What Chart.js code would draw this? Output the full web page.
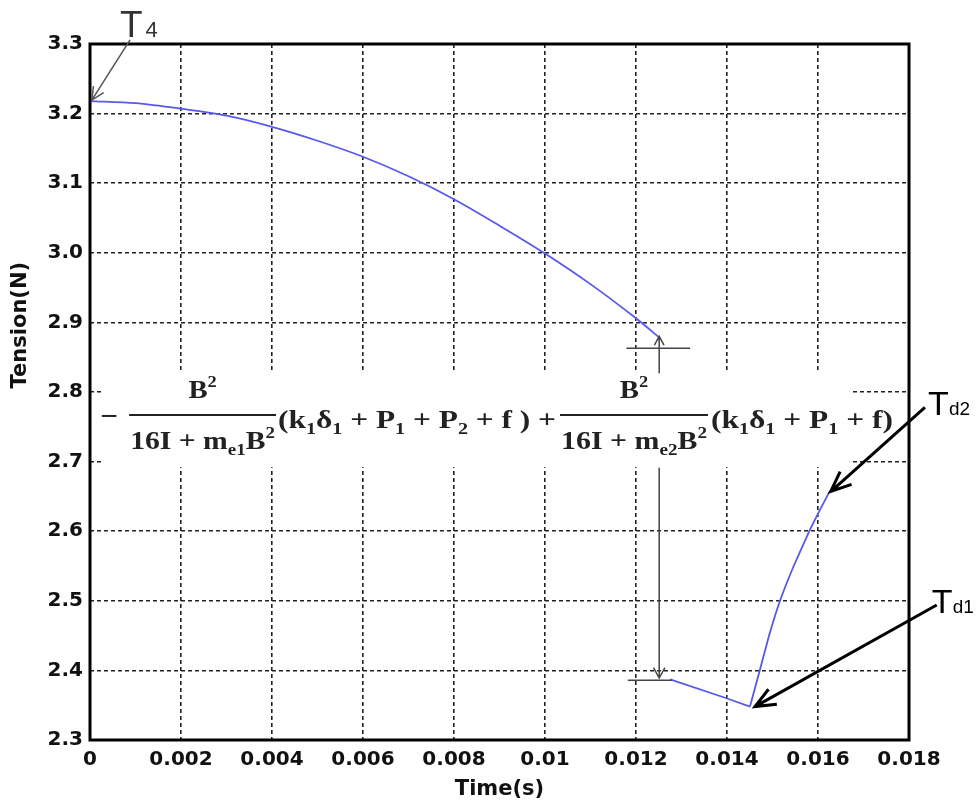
<!DOCTYPE html>
<html>
<head>
<meta charset="utf-8">
<script src="https://cdn.jsdelivr.net/npm/chart.js@4.4.0/dist/chart.umd.min.js"></script>
<style>
  html, body { margin: 0; padding: 0; background: #fff; }
</style>
</head>
<body>
<canvas id="tensionChart" width="979" height="805"></canvas>
<script>
// data
var timeBefore = [0, 0.001, 0.002, 0.003, 0.004, 0.005, 0.006, 0.007, 0.008, 0.009, 0.010, 0.011, 0.012, 0.0125];
var tensionBefore = [3.218, 3.215, 3.207, 3.197, 3.181, 3.161, 3.138, 3.110, 3.077, 3.039, 2.999, 2.955, 2.906, 2.879];
var timeDrop = [0.01275, 0.01399, 0.014505];
var tensionDrop = [2.387, 2.360, 2.348];
var timeRise = [0.014505, 0.01472, 0.014925, 0.015165, 0.015466, 0.015809, 0.016037, 0.016261];
var tensionRise = [2.348, 2.400, 2.450, 2.500, 2.550, 2.600, 2.630, 2.658];
var xTickValues = [0, 0.002, 0.004, 0.006, 0.008, 0.01, 0.012, 0.014, 0.016, 0.018];
var xTickLabels = ["0", "0.002", "0.004", "0.006", "0.008", "0.01", "0.012", "0.014", "0.016", "0.018"];
var yTickValues = [2.3, 2.4, 2.5, 2.6, 2.7, 2.8, 2.9, 3.0, 3.1, 3.2, 3.3];
var yTickLabels = ["2.3", "2.4", "2.5", "2.6", "2.7", "2.8", "2.9", "3.0", "3.1", "3.2", "3.3"];

// annotation placement, in data units (time, tension)
var formulaBox = [0.00029, 0.0167, 2.829, 2.692];
var formulaBar = 2.767;
var arrowT4 = [0.00088, 3.306, 0.00004, 3.2195];
var arrowTd2 = [0.01835, 2.778, 0.01628, 2.657];
var arrowTd1 = [0.01861, 2.494, 0.014615, 2.348];
var arrowUp = [0.01251, 2.827, 0.01251, 2.880];
var arrowDown = [0.01251, 2.691, 0.01251, 2.389];
var markUp = [0.01179, 0.01319, 2.8628];
var markDown = [0.01182, 0.01279, 2.386];

function toPoints(xs, ys) {
  return xs.map(function(t, i) { return {x: t, y: ys[i]}; });
}

function arrow(ctx, x1, y1, x2, y2, head, spread) {
  var a = Math.atan2(y2 - y1, x2 - x1);
  ctx.beginPath();
  ctx.moveTo(x1, y1);
  ctx.lineTo(x2, y2);
  ctx.moveTo(x2 - head * Math.cos(a - spread), y2 - head * Math.sin(a - spread));
  ctx.lineTo(x2, y2);
  ctx.lineTo(x2 - head * Math.cos(a + spread), y2 - head * Math.sin(a + spread));
  ctx.stroke();
}

var mainFont = 'bold 25px "Liberation Serif"';
var smallFont = 'bold 16px "Liberation Serif"';

// parts: [text, 0 normal / -1 subscript / 1 superscript]
function runWidth(ctx, parts) {
  var w = 0;
  parts.forEach(function(p) {
    ctx.font = p[1] === 0 ? mainFont : smallFont;
    w += ctx.measureText(p[0]).width;
  });
  return w;
}

function drawRun(ctx, parts, x0, x1, base) {
  var w = runWidth(ctx, parts);
  var s = x1 ? (x1 - x0) / w : 1;
  ctx.save();
  ctx.translate(x0, base);
  ctx.scale(s, 1);
  var x = 0;
  parts.forEach(function(p) {
    ctx.font = p[1] === 0 ? mainFont : smallFont;
    var dy = p[1] === -1 ? 6 : (p[1] === 1 ? -11 : 0);
    ctx.fillText(p[0], x, dy);
    x += ctx.measureText(p[0]).width;
  });
  ctx.restore();
}

function drawFraction(ctx, num, den, l, r, bar) {
  ctx.beginPath();
  ctx.moveTo(l, bar);
  ctx.lineTo(r, bar);
  ctx.stroke();
  var nw = runWidth(ctx, num) * 1.15;
  drawRun(ctx, num, (l + r) / 2 - nw / 2, (l + r) / 2 + nw / 2, bar - 17);
  drawRun(ctx, den, l + 1, r - 1, bar + 34);
}

var annotate = {
  id: 'annotate',
  beforeDatasetsDraw: function(chart) {
    var ctx = chart.ctx, x = chart.scales.x, y = chart.scales.y;
    var l = x.getPixelForValue(formulaBox[0]), r = x.getPixelForValue(formulaBox[1]);
    var t = y.getPixelForValue(formulaBox[2]), b = y.getPixelForValue(formulaBox[3]);
    ctx.save();
    ctx.fillStyle = '#fff';
    ctx.fillRect(l, t, r - l, b - t);
    ctx.restore();
  },
  afterDraw: function(chart) {
    var ctx = chart.ctx, x = chart.scales.x, y = chart.scales.y, a = chart.chartArea;
    var X = function(v) { return x.getPixelForValue(v); };
    var Y = function(v) { return y.getPixelForValue(v); };
    ctx.save();

    // frame
    ctx.strokeStyle = '#000';
    ctx.lineWidth = 3;
    ctx.strokeRect(a.left, a.top, a.right - a.left, a.bottom - a.top);

    // y title
    ctx.save();
    ctx.translate(21, Y(2.896));
    ctx.rotate(-Math.PI / 2);
    ctx.fillStyle = '#111';
    ctx.font = 'bold 21px "DejaVu Sans"';
    ctx.textAlign = 'center';
    ctx.textBaseline = 'middle';
    ctx.fillText('Tension(N)', 0, 0);
    ctx.restore();

    // formula
    var bar = Y(formulaBar);
    ctx.fillStyle = '#222';
    ctx.strokeStyle = '#222';
    ctx.lineWidth = 2;
    ctx.textBaseline = 'alphabetic';
    ctx.beginPath();
    ctx.moveTo(X(0.00026), bar + 1);
    ctx.lineTo(X(0.00058), bar + 1);
    ctx.stroke();
    var num = [['B', 0], ['2', 1]];
    drawFraction(ctx, num, [['16I + m', 0], ['e1', -1], ['B', 0], ['2', 1]], X(0.00086), X(0.004088), bar);
    drawRun(ctx, [['(k', 0], ['1', -1], ['\u03b4', 0], ['1', -1], [' + P', 0], ['1', -1], [' + P', 0], ['2', -1], [' + f ) +', 0]],
      X(0.004132), X(0.010242), bar + 13);
    drawFraction(ctx, num, [['16I + m', 0], ['e2', -1], ['B', 0], ['2', 1]], X(0.01033), X(0.013582), bar);
    drawRun(ctx, [['(k', 0], ['1', -1], ['\u03b4', 0], ['1', -1], [' + P', 0], ['1', -1], [' + f)', 0]],
      X(0.013648), X(0.017648), bar + 13);

    // stage markers
    ctx.strokeStyle = '#444';
    ctx.lineWidth = 1.5;
    ctx.beginPath();
    ctx.moveTo(X(markUp[0]), Y(markUp[2])); ctx.lineTo(X(markUp[1]), Y(markUp[2]));
    ctx.moveTo(X(markDown[0]), Y(markDown[2])); ctx.lineTo(X(markDown[1]), Y(markDown[2]));
    ctx.stroke();
    arrow(ctx, X(arrowUp[0]), Y(arrowUp[1]), X(arrowUp[2]), Y(arrowUp[3]), 10, 0.5);
    arrow(ctx, X(arrowDown[0]), Y(arrowDown[1]), X(arrowDown[2]), Y(arrowDown[3]), 12, 0.5);

    // T4
    ctx.strokeStyle = '#555';
    arrow(ctx, X(arrowT4[0]), Y(arrowT4[1]), X(arrowT4[2]), Y(arrowT4[3]), 14, 0.45);
    ctx.fillStyle = '#333';
    ctx.font = '37px "Liberation Sans"';
    ctx.fillText('T', X(0.00066), Y(3.31));
    ctx.font = '22px "Liberation Sans"';
    ctx.fillText('4', X(0.00122), Y(3.31));

    // Td2, Td1
    ctx.strokeStyle = '#000';
    ctx.lineWidth = 3;
    arrow(ctx, X(arrowTd2[0]), Y(arrowTd2[1]), X(arrowTd2[2]), Y(arrowTd2[3]), 22, 0.4);
    arrow(ctx, X(arrowTd1[0]), Y(arrowTd1[1]), X(arrowTd1[2]), Y(arrowTd1[3]), 22, 0.4);
    ctx.fillStyle = '#000';
    ctx.font = '34px "Liberation Sans"';
    ctx.fillText('T', X(0.01842), Y(2.767));
    ctx.fillText('T', X(0.01850), Y(2.4825));
    ctx.font = '19px "Liberation Sans"';
    ctx.fillText('d2', X(0.01888), Y(2.767));
    ctx.fillText('d1', X(0.01896), Y(2.4825));

    ctx.restore();
  }
};

function curve(xs, ys, tension) {
  return {
    data: toPoints(xs, ys),
    showLine: true,
    borderColor: 'rgb(88,88,238)',
    borderWidth: 1.8,
    pointRadius: 0,
    tension: tension
  };
}

new Chart(document.getElementById('tensionChart'), {
  type: 'scatter',
  data: {
    datasets: [
      curve(timeBefore, tensionBefore, 0.3),
      curve(timeDrop, tensionDrop, 0),
      curve(timeRise, tensionRise, 0.12)
    ]
  },
  options: {
    responsive: false,
    animation: false,
    layout: {padding: {top: 44, right: 70, left: 0, bottom: 0}},
    plugins: {legend: {display: false}, tooltip: {enabled: false}},
    scales: {
      x: {
        type: 'linear',
        min: 0,
        max: 0.018,
        afterBuildTicks: function(scale) {
          scale.ticks = xTickValues.map(function(v) { return {value: v}; });
        },
        afterFit: function(scale) { scale.height = 65; },
        ticks: {
          autoSkip: false,
          maxRotation: 0,
          padding: 8,
          color: '#111',
          font: {family: 'DejaVu Sans', size: 20, weight: 'bold'},
          callback: function(v, i) { return xTickLabels[i]; }
        },
        grid: {color: '#222', lineWidth: 1.6, drawTicks: false},
        border: {display: false, dash: [4, 3]},
        title: {
          display: true,
          text: 'Time(s)',
          color: '#111',
          font: {family: 'DejaVu Sans', size: 21, weight: 'bold'},
          padding: {top: 0, bottom: 3}
        }
      },
      y: {
        type: 'linear',
        min: 2.3,
        max: 3.3,
        afterBuildTicks: function(scale) {
          scale.ticks = yTickValues.map(function(v) { return {value: v}; });
        },
        afterFit: function(scale) { scale.width = 90; },
        ticks: {
          autoSkip: false,
          padding: 7,
          color: '#111',
          font: {family: 'DejaVu Sans', size: 20, weight: 'bold'},
          callback: function(v, i) { return yTickLabels[i]; }
        },
        grid: {color: '#222', lineWidth: 1.6, drawTicks: false},
        border: {display: false, dash: [4, 3]}
      }
    }
  },
  plugins: [annotate]
});
</script>
</body>
</html>
